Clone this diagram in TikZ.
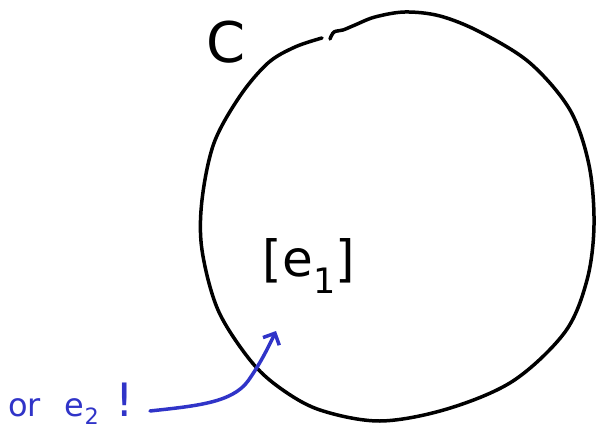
\documentclass[tikz,border=0pt]{standalone}
\usepackage{fontspec}
\setmainfont{DejaVu Sans}
\usetikzlibrary{arrows.meta}
\definecolor{pen}{RGB}{48,52,200}
\begin{document}
\begin{tikzpicture}[x=1pt,y=-1pt,
  ink/.style={line width=3.5pt,line cap=round,line join=round},
  bluepen/.style={ink,draw=pen},
  lbl/.style={inner sep=0pt,anchor=center}]
\useasboundingbox (0,0) rectangle (596,430);
% circle C (hand drawn, with a small hook at the top)
\draw[ink] plot[smooth,tension=0.55] coordinates {(330,39) (334,32) (343,30) (355,25) (375,17) (405,12) (440,16) (480,32) (530,63) (570,110) (589,165) (594,225) (587,280) (565,332) (513,381) (447,409) (380,421) (320,410) (280,388) (250,360) (218,310) (202,250) (202,200) (214,143) (240,96) (268,63) (295,47) (322,38)};
\node[lbl] (C) at (226,42) {\fontsize{56}{56}\selectfont C};
\node[lbl] (e1) at (309,266) {\fontsize{50}{50}\selectfont [e\textsubscript{1}]};
\node[lbl,text=pen,anchor=base west] (or) at (8,416) {\fontsize{32}{32}\selectfont or\hspace{0.75em}e\textsubscript{2}\hspace{0.5em}{\fontsize{46}{46}\selectfont !}};
\coordinate (s) at (150,411);
\coordinate (t) at (276,331);
\draw[bluepen,-{Straight Barb[length=9pt,width=18pt]}] (s) .. controls (195,406) and (232,403) .. (248,381) .. controls (260,364) and (268,348) .. (t);
\end{tikzpicture}
\end{document}
